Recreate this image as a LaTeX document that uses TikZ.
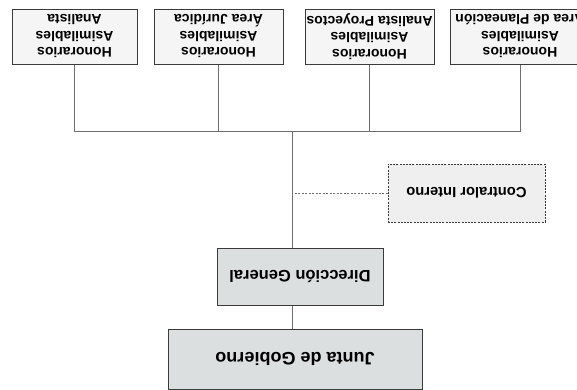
\documentclass[tikz,border=0pt]{standalone}
\usepackage{fontspec}
\setmainfont{Liberation Sans}
\usepackage{tikz}
\usetikzlibrary{calc}
\definecolor{EdgeGray}{HTML}{3A3A3A}
\definecolor{LineGray}{HTML}{6E6E6E}
\definecolor{BoxGray}{HTML}{DCDFDF}
\definecolor{PaleGray}{HTML}{F5F5F5}
\definecolor{SoftGray}{HTML}{EFEFEF}
\begin{document}
\begin{tikzpicture}[x=1pt,y=-1pt,
  hbox/.style={rectangle,draw=EdgeGray,fill=PaleGray,line width=1pt,rotate=180,
    inner sep=0pt,minimum height=55pt,align=center,
    font=\fontsize{14}{16.5}\selectfont\bfseries},
  gbox/.style={rectangle,draw=EdgeGray,fill=BoxGray,line width=1pt,rotate=180,
    inner sep=0pt,align=center},
  link/.style={line width=.8pt,color=LineGray}]
  \useasboundingbox (0,0) rectangle (577,389);
  % fees boxes (upside down, like the scan)
  \node[hbox,minimum width=125pt] (hon1) at (74.5,36.5) {Honorarios\\Asimilables\\Analista};
  \node[hbox,minimum width=129pt] (hon2) at (218.5,36.5) {Honorarios\\Asimilables\\Área Jurídica};
  \node[hbox,minimum width=129pt] (hon3) at (369.5,36.5) {Honorarios\\Asimilables\\Analista Proyectos};
  \node[hbox,minimum width=140pt] (hon4) at (520,36.5) {Honorarios\\Asimilables\\Área de Planeación};
  \coordinate (bus) at (292,131);
  \draw[link] (hon1.north) |- (bus);
  \draw[link] (hon2.north) |- (bus);
  \draw[link] (hon3.north) |- (bus);
  \draw[link] (hon4.north) |- (bus);
  % main chain
  \node[gbox,minimum width=166pt,minimum height=57pt,
    font=\fontsize{16.5}{19}\selectfont\bfseries] (dir) at (300,276.5) {Dirección General};
  \node[gbox,minimum width=254pt,minimum height=60pt,
    font=\fontsize{18}{21}\selectfont\bfseries] (jun) at (295,359) {Junta de Gobierno};
  \node[rectangle,draw=EdgeGray,fill=SoftGray,line width=1pt,
    dash pattern=on 2pt off 1.2pt,rotate=180,inner sep=0pt,
    minimum width=157pt,minimum height=58pt,
    font=\fontsize{14.7}{17}\selectfont\bfseries] (con) at (466.5,193) {Contralor Interno};
  \draw[link] (bus) -- (bus |- dir.south);
  \draw[link] (bus |- dir.north) -- (bus |- jun.south);
  \draw[link,dash pattern=on 2pt off 1.5pt] (con.east) -- (con.east -| bus);
\end{tikzpicture}
\end{document}
